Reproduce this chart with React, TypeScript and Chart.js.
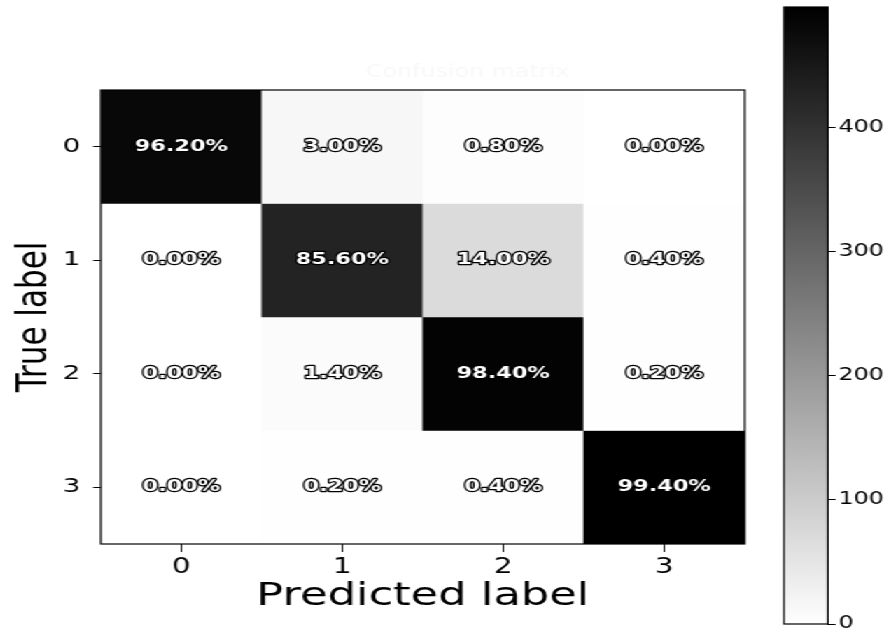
import { useEffect, useRef } from 'react';
import { Chart, registerables } from 'chart.js';

Chart.register(...registerables);

// ---- data ----
const predictedLabels = ['0', '1', '2', '3'];
const trueLabels = ['0', '1', '2', '3'];
const row0Pct = [96.2, 3.0, 0.8, 0.0];
const row1Pct = [0.0, 85.6, 14.0, 0.4];
const row2Pct = [0.0, 1.4, 98.4, 0.2];
const row3Pct = [0.0, 0.2, 0.4, 99.4];
const samplesPerClass = 500;
const colorbarTicks = [0, 100, 200, 300, 400];
const chartTitle = 'Confusion matrix';
const xTitle = 'Predicted label';
const yTitle = 'True label';

const rows = [row0Pct, row1Pct, row2Pct, row3Pct];
const counts = rows.map((r) => r.map((p) => Math.round((p * samplesPerClass) / 100)));
const vmax = Math.max(...counts.flat());

const SX = 1.4; // horizontal stretch of the reference picture
const FONT = '"DejaVu Sans", sans-serif';

function grayFor(v: number) {
  const g = Math.round(255 * (1 - v / vmax));
  return `rgb(${g},${g},${g})`;
}

const cellTextPlugin = {
  id: 'cellText',
  afterDatasetsDraw(chart: any) {
    const { ctx, chartArea } = chart;
    const xs = chart.scales.x;
    const ys = chart.scales.y;
    ctx.save();
    ctx.font = `bold 16px ${FONT}`;
    ctx.textAlign = 'center';
    ctx.textBaseline = 'middle';
    ctx.lineJoin = 'round';
    rows.forEach((r, ri) => {
      r.forEach((p, ci) => {
        const x = xs.getPixelForValue(ci);
        const y = ys.getPixelForValue(ri);
        const txt = p.toFixed(2) + '%';
        ctx.strokeStyle = '#000';
        ctx.lineWidth = 2.6;
        ctx.strokeText(txt, x, y);
        ctx.fillStyle = '#fff';
        ctx.fillText(txt, x, y);
      });
    });
    // faint title (almost invisible in the reference)
    ctx.font = `17px ${FONT}`;
    ctx.fillStyle = '#f8f8f8';
    ctx.fillText(chartTitle, 334, chartArea.top - 17);
    ctx.restore();
  },
  afterDraw(chart: any) {
    const { ctx, chartArea } = chart;
    ctx.save();
    ctx.strokeStyle = '#000';
    ctx.lineWidth = 1.2;
    ctx.strokeRect(chartArea.left, chartArea.top, chartArea.right - chartArea.left, chartArea.bottom - chartArea.top);
    ctx.restore();
  },
};

const framePlugin = {
  id: 'cbFrame',
  afterDraw(chart: any) {
    const { ctx, chartArea } = chart;
    ctx.save();
    ctx.strokeStyle = '#000';
    ctx.lineWidth = 1.2;
    ctx.strokeRect(chartArea.left, chartArea.top, chartArea.right - chartArea.left, chartArea.bottom - chartArea.top);
    ctx.restore();
  },
};

export default function App() {
  const mainRef = useRef<HTMLCanvasElement | null>(null);
  const cbRef = useRef<HTMLCanvasElement | null>(null);

  useEffect(() => {
    const main = new Chart(mainRef.current as HTMLCanvasElement, {
      type: 'bar',
      data: {
        labels: predictedLabels,
        datasets: rows.map((r, ri) => ({
          label: 'True ' + trueLabels[ri],
          data: r.map(() => [ri - 0.5, ri + 0.5]),
          backgroundColor: counts[ri].map(grayFor),
          borderWidth: 0,
          barPercentage: 1,
          categoryPercentage: 1,
          grouped: false,
        })) as any,
      },
      options: {
        animation: false,
        responsive: true,
        maintainAspectRatio: false,
        layout: { padding: { left: 0, right: 18, top: 90, bottom: 0 } },
        plugins: { legend: { display: false }, tooltip: { enabled: false }, title: { display: false } },
        scales: {
          x: {
            type: 'category',
            offset: true,
            grid: { offset: false, drawOnChartArea: false, tickLength: 8, tickColor: '#000', tickWidth: 1 },
            border: { display: false },
            ticks: { color: '#000', font: { family: FONT, size: 21 }, padding: 3, maxRotation: 0 },
            title: {
              display: true,
              text: xTitle,
              color: '#000',
              font: { family: FONT, size: 32 },
              padding: { top: 0, bottom: 20 },
            },
            afterFit: (s: any) => {
              s.height = 92;
            },
          },
          y: {
            type: 'linear',
            min: -0.5,
            max: 3.5,
            reverse: true,
            afterBuildTicks: (s: any) => {
              s.ticks = trueLabels.map((_, i) => ({ value: i }));
            },
            grid: { drawOnChartArea: false, tickLength: 5.5, tickColor: '#000', tickWidth: 1 },
            border: { display: false },
            ticks: {
              color: '#000',
              font: { family: FONT, size: 20 },
              padding: 9,
              callback: (v: any) => trueLabels[v] ?? '',
            },
            title: {
              display: true,
              text: yTitle,
              color: '#000',
              font: { family: FONT, size: 31 },
              padding: { top: 6, bottom: 0 },
            },
            afterFit: (s: any) => {
              s.width = 72;
            },
          },
        },
      } as any,
      plugins: [cellTextPlugin],
    });

    const cb = new Chart(cbRef.current as HTMLCanvasElement, {
      type: 'bar',
      data: {
        labels: [''],
        datasets: [
          {
            data: [[0, vmax]] as any,
            backgroundColor: (c: any) => {
              const ca = c.chart.chartArea;
              if (!ca) return '#888';
              const g = c.chart.ctx.createLinearGradient(0, ca.bottom, 0, ca.top);
              g.addColorStop(0, '#ffffff');
              g.addColorStop(1, '#000000');
              return g;
            },
            borderWidth: 0,
            barPercentage: 1,
            categoryPercentage: 1,
          },
        ],
      },
      options: {
        animation: false,
        responsive: true,
        maintainAspectRatio: false,
        layout: { padding: { left: 10, right: 0, top: 7, bottom: 12 } },
        plugins: { legend: { display: false }, tooltip: { enabled: false } },
        scales: {
          x: { display: false },
          y: {
            type: 'linear',
            position: 'right',
            min: 0,
            max: vmax,
            afterBuildTicks: (s: any) => {
              s.ticks = colorbarTicks.map((v) => ({ value: v }));
            },
            grid: { drawOnChartArea: false, tickLength: 5.5, tickColor: '#000', tickWidth: 1 },
            border: { display: false },
            ticks: { color: '#000', font: { family: FONT, size: 17 }, padding: 2 },
            afterFit: (s: any) => {
              s.width = 46.6;
              s.paddingTop = 0;
              s.paddingBottom = 0;
            },
          },
        },
      } as any,
      plugins: [framePlugin],
    });

    return () => {
      main.destroy();
      cb.destroy();
    };
  }, []);

  return (
    <div
      style={{
        position: 'fixed',
        left: 0,
        top: 0,
        width: 638,
        height: 636,
        transform: `scaleX(${SX})`,
        transformOrigin: '0 0',
        background: '#fff',
      }}
    >
      <div style={{ position: 'absolute', left: 0, top: 0, width: 550, height: 636 }}>
        <canvas ref={mainRef} />
      </div>
      <div style={{ position: 'absolute', left: 550, top: 0, width: 88, height: 636 }}>
        <canvas ref={cbRef} />
      </div>
    </div>
  );
}
